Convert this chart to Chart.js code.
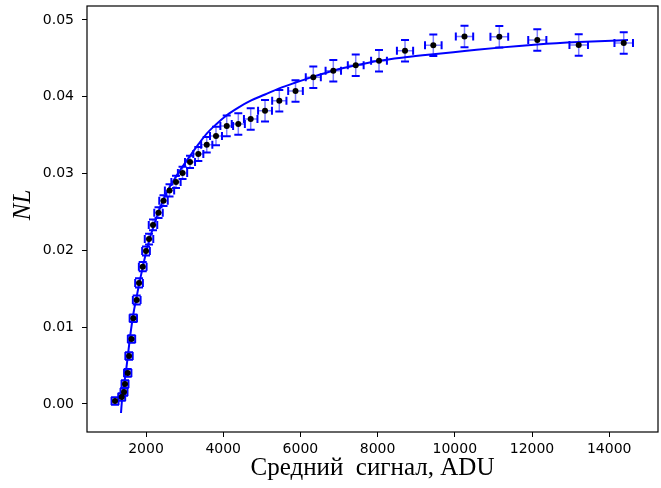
<!DOCTYPE html>
<html>
<head>
<meta charset="utf-8">
<script src="https://cdn.jsdelivr.net/npm/chart.js"></script>
<style>
body { margin: 0; background: #fff; }
</style>
</head>
<body>
<canvas id="grafico" width="661" height="488"></canvas>
<script>
// measured points
const signal = [1197, 1370, 1430, 1456, 1526, 1560, 1624, 1671, 1759, 1819,
  1915, 2000, 2078, 2181, 2324, 2453, 2609, 2777, 2946, 3140,
  3355, 3573, 3813, 4091, 4391, 4712, 5083, 5453, 5873, 6334,
  6852, 7433, 8036, 8710, 9443, 10251, 11153, 12137, 13210, 14376];
const nl = [0.00039, 0.00091, 0.00156, 0.00260, 0.00404, 0.00625, 0.00846, 0.01116, 0.01354, 0.01576,
  0.01788, 0.01992, 0.02148, 0.02331, 0.02490, 0.02647, 0.02780, 0.02891, 0.03008, 0.03151,
  0.03255, 0.03376, 0.03490, 0.03621, 0.03646, 0.03711, 0.03819, 0.03949, 0.04076, 0.04254,
  0.04340, 0.04410, 0.04470, 0.04600, 0.04670, 0.04785, 0.04783, 0.04740, 0.04674, 0.04701];
const signalErr = [90, 90, 90, 90, 95, 95, 95, 95, 100, 100,
  100, 100, 110, 110, 110, 110, 120, 120, 120, 130,
  130, 145, 155, 165, 170, 175, 180, 185, 190, 195,
  200, 205, 205, 210, 215, 225, 230, 235, 240, 240];
const nlErr = [0.0005, 0.0005, 0.0005, 0.0005, 0.0005, 0.0005, 0.0005, 0.0005, 0.0006, 0.0006,
  0.0006, 0.0006, 0.0007, 0.0007, 0.0007, 0.0007, 0.0008, 0.0008, 0.0008, 0.0008,
  0.0009, 0.0010, 0.0012, 0.00135, 0.0014, 0.0014, 0.0014, 0.0014, 0.0014, 0.0014,
  0.0014, 0.0014, 0.0014, 0.0014, 0.0014, 0.0014, 0.0014, 0.0014, 0.0014, 0.0014];

// fitted curve
const fitSignal = [1352, 1378, 1430, 1495, 1547, 1611, 1676, 1741, 1806, 1883,
  1974, 2078, 2181, 2285, 2415, 2570, 2738, 2946, 3140, 3355,
  3573, 3813, 4091, 4391, 4712, 5083, 5453, 5873, 6334, 6852,
  7433, 8036, 8710, 9443, 10251, 11153, 12137, 13210, 14487];
const fitNl = [-0.00117, 0.00052, 0.00247, 0.00482, 0.00703, 0.00964, 0.01185, 0.01354, 0.01523, 0.01706,
  0.01914, 0.02122, 0.02292, 0.02448, 0.02617, 0.02786, 0.02930, 0.03090, 0.03230, 0.03380,
  0.03520, 0.03640, 0.03760, 0.03860, 0.03950, 0.04030, 0.04110, 0.04185, 0.04262, 0.04340,
  0.04410, 0.04470, 0.04515, 0.04555, 0.04595, 0.04640, 0.04680, 0.04712, 0.04740];

const xTicks = [2000, 4000, 6000, 8000, 10000, 12000, 14000];
const yTicks = [0, 0.01, 0.02, 0.03, 0.04, 0.05];

const errorBars = {
  id: 'errorBars',
  beforeDatasetsDraw(chart) {
    const ctx = chart.ctx;
    const xs = chart.scales.x, ys = chart.scales.y;
    ctx.save();
    for (let i = 0; i < signal.length; i++) {
      const px = xs.getPixelForValue(signal[i]);
      const py = ys.getPixelForValue(nl[i]);
      const x1 = xs.getPixelForValue(signal[i] - signalErr[i]);
      const x2 = xs.getPixelForValue(signal[i] + signalErr[i]);
      const y1 = ys.getPixelForValue(nl[i] - nlErr[i]);
      const y2 = ys.getPixelForValue(nl[i] + nlErr[i]);
      ctx.strokeStyle = 'rgba(0,0,255,0.5)';
      ctx.lineWidth = 1.5;
      ctx.beginPath();
      ctx.moveTo(x1, py); ctx.lineTo(x2, py);
      ctx.moveTo(px, y1); ctx.lineTo(px, y2);
      ctx.stroke();
      ctx.strokeStyle = '#0000ff';
      ctx.lineWidth = 2;
      ctx.beginPath();
      ctx.moveTo(x1, py - 4); ctx.lineTo(x1, py + 4);
      ctx.moveTo(x2, py - 4); ctx.lineTo(x2, py + 4);
      ctx.moveTo(px - 4, y1); ctx.lineTo(px + 4, y1);
      ctx.moveTo(px - 4, y2); ctx.lineTo(px + 4, y2);
      ctx.stroke();
    }
    ctx.restore();
  }
};

const frame = {
  id: 'frame',
  afterDraw(chart) {
    const a = chart.chartArea;
    const ctx = chart.ctx;
    ctx.save();
    ctx.strokeStyle = '#000';
    ctx.lineWidth = 1.2;
    ctx.strokeRect(a.left, a.top, a.right - a.left, a.bottom - a.top);
    // y axis title
    ctx.translate(23, 205);
    ctx.rotate(-Math.PI / 2);
    ctx.fillStyle = '#000';
    ctx.font = 'italic 25px "Liberation Serif"';
    ctx.textAlign = 'center';
    ctx.textBaseline = 'middle';
    ctx.fillText('NL', 0, 0);
    ctx.restore();
  }
};

const ctx = document.getElementById('grafico');
new Chart(ctx, {
  type: 'scatter',
  data: {
    datasets: [{
      label: 'NL',
      data: signal.map((v, i) => ({x: v, y: nl[i]})),
      pointRadius: 3,
      pointHoverRadius: 3,
      backgroundColor: '#000',
      borderColor: '#000',
      borderWidth: 0
    }, {
      label: 'fit',
      type: 'line',
      data: fitSignal.map((v, i) => ({x: v, y: fitNl[i]})),
      borderColor: '#0000ff',
      borderWidth: 2,
      pointRadius: 0,
      fill: false,
      cubicInterpolationMode: 'monotone'
    }]
  },
  options: {
    responsive: false,
    animation: false,
    events: [],
    layout: { padding: { top: 6, right: 3, left: 0, bottom: 0 } },
    plugins: { legend: { display: false }, tooltip: { enabled: false } },
    scales: {
      x: {
        type: 'linear',
        min: 471,
        max: 15264,
        afterFit(s) { s.height = 56; s.paddingLeft = 0; s.paddingRight = 0; },
        afterBuildTicks(s) { s.ticks = xTicks.map(v => ({value: v})); },
        grid: { drawOnChartArea: false, color: '#000', tickLength: 5 },
        border: { display: false },
        ticks: {
          color: '#000',
          font: { family: 'DejaVu Sans', size: 14 },
          padding: 4,
          maxRotation: 0,
          callback: v => String(v)
        },
        title: {
          display: true,
          text: 'Средний  сигнал, ADU',
          color: '#000',
          font: { family: 'Liberation Serif', size: 25 },
          padding: { top: 0, bottom: 5 }
        }
      },
      y: {
        type: 'linear',
        min: -0.00365,
        max: 0.05182,
        afterFit(s) { s.width = 87; s.paddingTop = 0; s.paddingBottom = 0; },
        afterBuildTicks(s) { s.ticks = yTicks.map(v => ({value: v})); },
        grid: { drawOnChartArea: false, color: '#000', tickLength: 5 },
        border: { display: false },
        ticks: {
          color: '#000',
          font: { family: 'DejaVu Sans', size: 14 },
          padding: 8,
          callback: v => v.toFixed(2)
        }
      }
    }
  },
  plugins: [errorBars, frame]
});
</script>
</body>
</html>
